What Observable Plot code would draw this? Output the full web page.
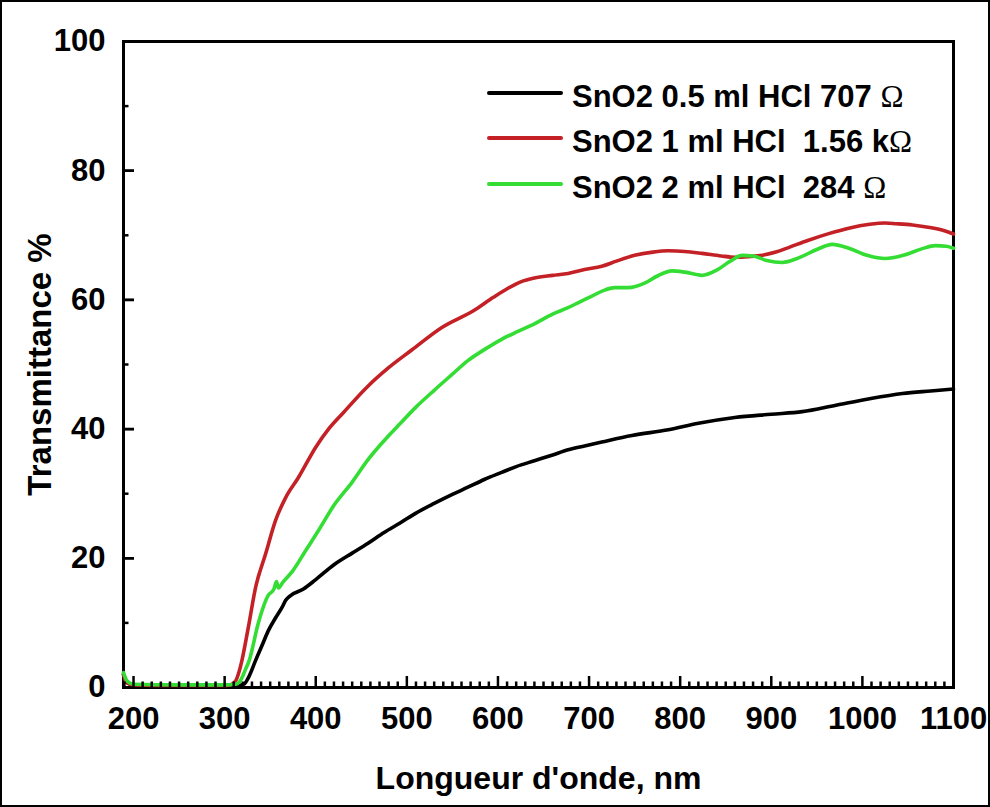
<!DOCTYPE html>
<html><head><meta charset="utf-8">
<script src="https://cdn.jsdelivr.net/npm/d3@7"></script>
<script src="https://cdn.jsdelivr.net/npm/@observablehq/plot@0.6"></script>
<style>
html,body{margin:0;padding:0;background:#fff;overflow:hidden;}
#wrap{position:relative;width:990px;height:807px;}
#wrap svg{display:block;outline:2.5px solid #000;outline-offset:-2.5px;}
.legend{position:absolute;left:487px;top:74px;font-family:"Liberation Sans",Arial,sans-serif;font-weight:bold;font-size:31px;color:#000;}
.row{display:flex;align-items:center;height:45.5px;white-space:pre;}
.swatch{width:76px;height:4px;margin-right:9px;position:relative;top:-4px;border-radius:2px;}
.omega{font-family:"Liberation Serif","DejaVu Serif",serif;font-weight:normal;}
</style></head><body><div id="wrap"></div>
<script>
// ---- data ----
const seriesNames = ["SnO2 0.5 ml HCl 707 Ω", "SnO2 1 ml HCl  1.56 kΩ", "SnO2 2 ml HCl  284 Ω"];
const seriesColors = ["#000000", "#c42127", "#33dd33"];

const blackX = [189,192,200,250,300,315,322,326,334,341,348,356,363,367,372,386,400,420,440,457,475,493,510,530,550,567,585,604,620,640,660,677,695,714,747,787,820,860,900,934,971,1008,1044,1075,1100];
const blackY = [2.0,0.8,0.4,0.3,0.3,0.3,0.6,1.5,4.2,6.5,8.8,10.8,12.4,13.5,14.2,15.2,16.7,19.0,20.8,22.3,24.0,25.5,27.0,28.5,29.9,31.0,32.2,33.3,34.2,35.1,36.0,36.8,37.4,38.0,39.0,39.9,40.9,41.8,42.3,42.7,43.7,44.7,45.5,45.9,46.2];

const redX = [189,192,200,250,300,306,312,316,319,326,334,345,356,367,381,400,414,430,457,480,505,538,574,595,611,625,640,660,677,695,714,730,750,770,787,805,824,845,860,875,890,905,919,940,964,985,1008,1025,1037,1055,1074,1090,1100];
const redY = [2.0,0.8,0.4,0.3,0.3,0.4,1.0,2.5,4.2,9.3,15.5,20.7,25.9,29.4,32.5,37.2,40.0,42.5,46.6,49.5,52.2,55.7,58.4,60.4,61.8,62.8,63.4,63.8,64.1,64.7,65.2,66.0,66.9,67.4,67.6,67.5,67.2,66.8,66.6,66.7,66.9,67.4,68.1,69.2,70.3,71.1,71.7,71.9,71.8,71.6,71.2,70.7,70.2];

const greenX = [189,193,200,250,300,312,316,319,322,327,337,348,354,357,359,364,375,389,403,420,440,457,475,493,510,530,550,567,585,604,620,640,660,677,690,702,715,728,743,761,775,791,805,824,840,855,868,880,895,912,930,950,967,985,1005,1025,1045,1065,1080,1092,1100];
const greenY = [2.3,1.0,0.5,0.4,0.4,0.5,0.8,1.5,2.5,4.2,10.0,14.3,15.2,16.4,15.4,16.3,18.1,21.2,24.3,28.2,31.8,35.2,38.2,40.9,43.4,46.0,48.5,50.6,52.3,53.9,55.0,56.3,57.8,58.8,59.7,60.5,61.4,61.9,61.9,62.6,63.7,64.5,64.3,63.8,64.6,66.0,66.9,66.8,66.1,65.8,66.5,67.8,68.6,68.0,66.9,66.4,66.9,67.9,68.4,68.3,68.0];

const xMajorTicks = [200,300,400,500,600,700,800,900,1000,1100];
const xAllTicks = d3.range(190,1100,10);
const yMajorTicks = [0,20,40,60,80,100];
const yAllTicks = d3.range(10,100,10);
const xTitle = "Longueur d'onde, nm";
const yTitle = "Transmittance %";

// ---- layout ----
const W = 990, H = 807, mL = 123, mR = 37, mT = 41, mB = 120;
const xDomain = [189, 1100], yDomain = [0, 100];
const pxPerX = (W - mL - mR) / (xDomain[1] - xDomain[0]);
const pxPerY = (H - mT - mB) / (yDomain[1] - yDomain[0]);
const isMajorX = v => v % 100 === 0;
const isMajorY = v => v % 20 === 0;

// ---- build table ----
const seriesX = [blackX, redX, greenX];
const seriesY = [blackY, redY, greenY];
const rows = [];
seriesNames.forEach((name, i) => {
  seriesX[i].forEach((x, j) => rows.push({series: name, wavelength: x, T: seriesY[i][j]}));
});

const plain = d => String(d);

const chart = Plot.plot({
  width: W, height: H,
  marginLeft: mL, marginRight: mR, marginTop: mT, marginBottom: mB,
  style: {fontFamily: "'Liberation Sans', Arial, sans-serif", fontWeight: "bold", color: "#000", background: "#fff"},
  x: {domain: xDomain},
  y: {domain: yDomain},
  color: {domain: seriesNames, range: seriesColors},
  marks: [
    Plot.frame({stroke: "#000", strokeWidth: 3}),
    Plot.line(rows, {x: "wavelength", y: "T", z: "series", stroke: "series", strokeWidth: 3.6, curve: "monotone-x"}),
    Plot.axisX({ticks: xMajorTicks, tickSize: 0, tickPadding: 19, tickFormat: plain, fontSize: 31, label: null}),
    Plot.axisY({ticks: yMajorTicks, tickSize: 0, tickPadding: 18, tickFormat: plain, fontSize: 31, label: null}),
    Plot.text([xTitle], {text: d => d, frameAnchor: "bottom", dy: 91, fontSize: 32, lineAnchor: "middle", textAnchor: "middle"}),
    Plot.text([yTitle], {text: d => d, frameAnchor: "left", rotate: -90, dx: -83, fontSize: 33, lineAnchor: "middle", textAnchor: "middle"}),
    // inward tick marks (10px major, 5px minor), lengths converted to data units
    Plot.ruleX(xAllTicks, {x: d => d, y1: yDomain[0], y2: d => yDomain[0] + (isMajorX(d) ? 11 : 5.5) / pxPerY, stroke: "#000", strokeWidth: 2.5}),
    Plot.ruleY(yAllTicks.concat(yMajorTicks.filter(v => v > 0)), {y: d => d, x1: xDomain[0], x2: d => xDomain[0] + (isMajorY(d) ? 11 : 5.5) / pxPerX, stroke: "#000", strokeWidth: 2.5})
  ]
});

const wrap = document.getElementById("wrap");
wrap.appendChild(chart);

// legend (HTML overlay)
const legend = document.createElement("div");
legend.className = "legend";
seriesNames.forEach((name, i) => {
  const row = document.createElement("div");
  row.className = "row";
  const sw = document.createElement("span");
  sw.className = "swatch";
  sw.style.background = seriesColors[i];
  row.appendChild(sw);
  const label = document.createElement("span");
  label.appendChild(document.createTextNode(name.slice(0, -1)));
  const om = document.createElement("span");
  om.className = "omega";
  om.textContent = name.slice(-1);
  label.appendChild(om);
  row.appendChild(label);
  legend.appendChild(row);
});
wrap.appendChild(legend);
</script></body></html>
